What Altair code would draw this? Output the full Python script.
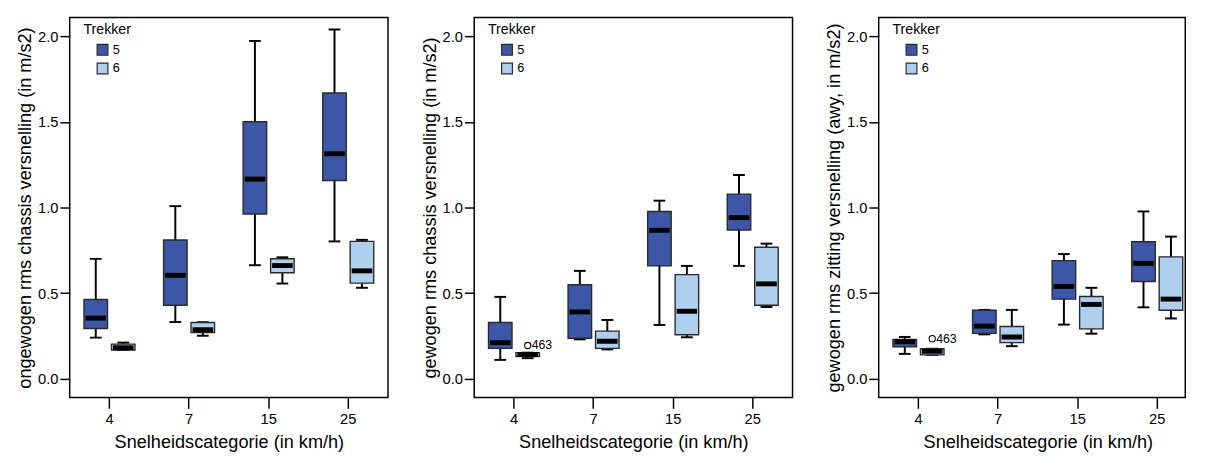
import altair as alt
import pandas as pd

CATEGORIES = ["4", "7", "15", "25"]
TREKKERS = ["5", "6"]

# order: (4,5),(4,6),(7,5),(7,6),(15,5),(15,6),(25,5),(25,6)
P1_LO = [0.24, 0.168, 0.331, 0.251, 0.663, 0.556, 0.802, 0.531]
P1_Q1 = [0.293, 0.168, 0.429, 0.269, 0.962, 0.619, 1.158, 0.558]
P1_MED = [0.354, 0.181, 0.604, 0.286, 1.166, 0.661, 1.314, 0.630]
P1_Q3 = [0.463, 0.202, 0.81, 0.328, 1.501, 0.701, 1.669, 0.802]
P1_HI = [0.70, 0.211, 1.008, 0.33, 1.973, 0.709, 2.04, 0.811]

P2_LO = [0.11, 0.12, 0.23, 0.171, 0.314, 0.242, 0.659, 0.419]
P2_Q1 = [0.177, 0.13, 0.236, 0.177, 0.659, 0.257, 0.869, 0.429]
P2_MED = [0.21, 0.141, 0.39, 0.219, 0.867, 0.394, 0.941, 0.554]
P2_Q3 = [0.328, 0.152, 0.549, 0.278, 0.977, 0.608, 1.078, 0.768]
P2_HI = [0.478, 0.152, 0.63, 0.343, 1.04, 0.659, 1.19, 0.789]

P3_LO = [0.145, 0.139, 0.259, 0.19, 0.316, 0.263, 0.417, 0.352]
P3_Q1 = [0.187, 0.139, 0.265, 0.211, 0.465, 0.291, 0.568, 0.40]
P3_MED = [0.215, 0.16, 0.307, 0.244, 0.539, 0.434, 0.674, 0.465]
P3_Q3 = [0.229, 0.175, 0.40, 0.305, 0.69, 0.48, 0.80, 0.712]
P3_HI = [0.244, 0.175, 0.402, 0.402, 0.728, 0.531, 0.977, 0.83]

P2_OUTLIER = {"cat": "4", "trekker": "6", "value": 0.194, "label": "463"}
P3_OUTLIER = {"cat": "4", "trekker": "6", "value": 0.234, "label": "463"}

Y_TITLES = [
    "ongewogen rms chassis versnelling (in m/s2)",
    "gewogen rms chassis versnelling (in m/s2)",
    "gewogen rms zitting versnelling (awy, in m/s2)",
]
X_TITLE = "Snelheidscategorie (in km/h)"
Y_TICKS = [0.0, 0.5, 1.0, 1.5, 2.0]
COLORS = ["#3D57A8", "#AECFEE"]

FONT = "Liberation Sans"
PANEL_W = 325


def make_df(lo, q1, med, q3, hi):
    rows = []
    i = 0
    for c in CATEGORIES:
        for t in TREKKERS:
            rows.append({"cat": c, "trekker": t, "lo": lo[i], "q1": q1[i],
                         "med": med[i], "q3": q3[i], "hi": hi[i]})
            i += 1
    return pd.DataFrame(rows)


def panel(df, ytitle, outlier=None, view_w=PANEL_W):
    yscale = alt.Scale(domain=[-0.11, 2.11], nice=False, zero=False)
    x = alt.X("cat:N", sort=CATEGORIES,
              scale=alt.Scale(domain=CATEGORIES, paddingInner=0, paddingOuter=0,
                              range=[0, PANEL_W]),
              axis=alt.Axis(title=X_TITLE, labelAngle=0, tickSize=11, labelPadding=4,
                            domain=False, ticks=True, tickColor="black", tickWidth=1.5,
                            labelFontSize=15, titleFontSize=18.5, titleFontWeight="normal",
                            titlePadding=6, labelColor="black", titleColor="black",
                            titleX=PANEL_W / 2))
    xo = alt.XOffset("trekker:N", sort=TREKKERS,
                     scale=alt.Scale(domain=TREKKERS, paddingInner=0.143, paddingOuter=0.52))
    yaxis = alt.Axis(title=ytitle, values=Y_TICKS, format=".1f", tickSize=10, labelPadding=2,
                     domain=False, grid=False, tickColor="black", tickWidth=1.5,
                     labelFontSize=15, titleFontSize=18.5, titleFontWeight="normal",
                     titlePadding=3, labelColor="black", titleColor="black")
    base = alt.Chart(df).encode(x=x, xOffset=xo)
    whisker = base.mark_rule(color="black", strokeWidth=2).encode(
        y=alt.Y("lo:Q", scale=yscale, axis=yaxis), y2="hi:Q")
    cap_hi = base.mark_tick(color="black", size=12, thickness=2, opacity=1).encode(
        y=alt.Y("hi:Q", scale=yscale))
    cap_lo = base.mark_tick(color="black", size=12, thickness=2, opacity=1).encode(
        y=alt.Y("lo:Q", scale=yscale))
    box = base.mark_bar(stroke="#2a2a2a", strokeWidth=1.4, opacity=1).encode(
        y=alt.Y("q1:Q", scale=yscale),
        y2="q3:Q",
        color=alt.Color("trekker:N", sort=TREKKERS,
                        scale=alt.Scale(domain=TREKKERS, range=COLORS),
                        legend=alt.Legend(title="Trekker", orient="none", legendX=14, legendY=6,
                                          symbolType="square", symbolSize=121,
                                          symbolStrokeColor="#2a2a2a", symbolStrokeWidth=1.2,
                                          symbolOpacity=1,
                                          symbolOffset=13, titleFontSize=14.5,
                                          titleFontWeight="normal", labelFontSize=13,
                                          titlePadding=6, rowPadding=2, labelOffset=4,
                                          titleColor="black", labelColor="black")))
    median = base.mark_tick(color="black", size=21, thickness=5, opacity=1).encode(
        y=alt.Y("med:Q", scale=yscale))
    layers = [whisker, cap_hi, cap_lo, box, median]
    if outlier is not None:
        odf = pd.DataFrame([outlier])
        ob = alt.Chart(odf).encode(x=x, xOffset=xo, y=alt.Y("value:Q", scale=yscale))
        layers.append(ob.mark_point(shape="circle", filled=False, size=40, color="black",
                                    strokeWidth=1.1, opacity=1))
        layers.append(ob.mark_text(align="left", baseline="middle", dx=4, fontSize=12.5,
                                   color="black").encode(text="label:N"))
    return alt.layer(*layers).properties(width=view_w, height=388)


p1 = panel(make_df(P1_LO, P1_Q1, P1_MED, P1_Q3, P1_HI), Y_TITLES[0])
p2 = panel(make_df(P2_LO, P2_Q1, P2_MED, P2_Q3, P2_HI), Y_TITLES[1], P2_OUTLIER)
p3 = panel(make_df(P3_LO, P3_Q1, P3_MED, P3_Q3, P3_HI), Y_TITLES[2], P3_OUTLIER, view_w=313)

chart = alt.hconcat(p1, p2, p3, spacing=31).resolve_legend(color="independent").properties(
    padding={"left": 7, "top": 4, "right": 0, "bottom": 0}
).configure(font=FONT).configure_view(stroke="black", strokeWidth=1.5)

chart.save("out.html", embed_options={"renderer": "svg", "actions": False})
